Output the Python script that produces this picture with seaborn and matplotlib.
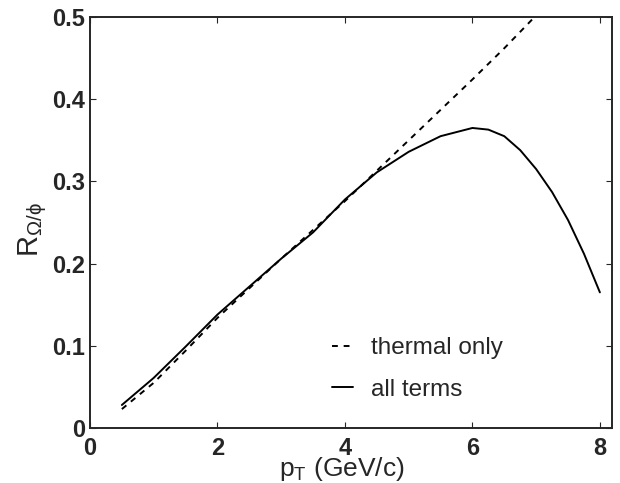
import pandas as pd
import numpy as np
import matplotlib
matplotlib.use("Agg")
import matplotlib.pyplot as plt
import seaborn as sns

pt_thermal = [0.5, 1.0, 1.5, 2.0, 2.5, 3.0, 3.5, 4.0, 4.5, 5.0, 5.5, 6.0, 6.5, 7.0]
r_thermal = [0.023, 0.055, 0.094, 0.134, 0.170, 0.206, 0.241, 0.276, 0.313, 0.350, 0.387, 0.424, 0.462, 0.502]

pt_all = [0.5, 1.0, 1.5, 2.0, 2.5, 3.0, 3.5, 4.0, 4.5, 5.0, 5.5, 6.0, 6.25, 6.5, 6.75, 7.0, 7.25, 7.5, 7.75, 8.0]
r_all = [0.028, 0.061, 0.099, 0.138, 0.172, 0.206, 0.238, 0.278, 0.311, 0.336, 0.355, 0.365, 0.363, 0.355, 0.338, 0.315, 0.287, 0.253, 0.212, 0.165]

sns.set_style("ticks")
plt.rcParams['font.family'] = ['Liberation Sans', 'DejaVu Sans']
plt.rcParams['mathtext.fontset'] = 'custom'
plt.rcParams['mathtext.rm'] = 'Liberation Sans'
plt.rcParams['mathtext.it'] = 'Liberation Sans'

fig = plt.figure(figsize=(6.2, 4.83), dpi=100)
# frame spans 90..612 px wide, 17..428 px tall
ax = fig.add_axes([90 / 620, 55 / 483, 522 / 620, 411 / 483])

sns.lineplot(x=pt_thermal, y=r_thermal, ax=ax, color='black', lw=1.4,
             linestyle=(0, (3, 3)), label='thermal only')
sns.lineplot(x=pt_all, y=r_all, ax=ax, color='black', lw=1.4, label='all terms')

ax.set_xlim(0, 8.19)
ax.set_ylim(0, 0.5)
ax.set_xticks([0, 2, 4, 6, 8])
ax.set_yticks([0, 0.1, 0.2, 0.3, 0.4, 0.5])
ax.set_yticklabels(['0', '0.1', '0.2', '0.3', '0.4', '0.5'])
ax.tick_params(direction='in', length=4.5, width=0.8, top=True, right=True,
               labelsize=17)
ax.tick_params(axis='x', pad=6.5)
ax.tick_params(axis='y', pad=3.6)
for lab in ax.get_xticklabels() + ax.get_yticklabels():
    lab.set_fontweight('bold')
for s in ax.spines.values():
    s.set_linewidth(1.4)
    s.set_visible(True)

ax.set_xlabel(r'$\mathregular{p_T}$ (GeV/c)', fontsize=19)
ax.xaxis.set_label_coords(0.483, -0.066)
ax.set_ylabel(r'$\mathregular{R_{\Omega/\phi}}$', fontsize=21)
ax.yaxis.set_label_coords(-0.078, 0.482)

leg = ax.legend(loc='upper left', bbox_to_anchor=(0.4636, 0.2214), frameon=False,
                borderaxespad=0, borderpad=0, fontsize=17.5, handlelength=0.86,
                handletextpad=0.74, labelspacing=0.82)

fig.savefig('out.png', dpi=100)
